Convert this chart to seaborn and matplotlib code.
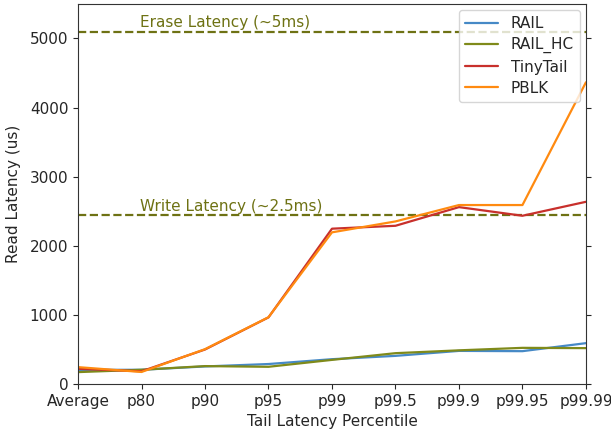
import matplotlib
matplotlib.use("Agg")
import matplotlib.pyplot as plt
import seaborn as sns
import pandas as pd

percentiles = ["Average", "p80", "p90", "p95", "p99", "p99.5", "p99.9", "p99.95", "p99.99"]
rail = [205, 207, 255, 290, 360, 408, 480, 476, 592]
rail_hc = [173, 207, 260, 250, 350, 447, 488, 524, 520]
tinytail = [221, 185, 500, 965, 2248, 2290, 2560, 2435, 2637]
pblk = [245, 175, 505, 967, 2195, 2353, 2590, 2590, 4366]
series_names = ["RAIL", "RAIL_HC", "TinyTail", "PBLK"]
series_colors = ["#4689c6", "#7f8a1a", "#c8302c", "#ff8a10"]
write_latency = 2440
erase_latency = 5100

rows = []
for name, vals in zip(series_names, [rail, rail_hc, tinytail, pblk]):
    for p, v in zip(percentiles, vals):
        rows.append({"Percentile": p, "Latency": v, "System": name})
df = pd.DataFrame(rows)

sns.set_style("ticks")
plt.rcParams["font.family"] = ["DejaVu Sans"]

fig = plt.figure(figsize=(6.11, 4.33), dpi=100)
ax = fig.add_axes([0.1277, 0.113, 0.8313, 0.878])

sns.lineplot(data=df, x="Percentile", y="Latency", hue="System",
             palette=dict(zip(series_names, series_colors)), sort=False,
             linewidth=1.6, ax=ax)

ax.axhline(write_latency, color="#6e7214", linestyle="--", linewidth=1.6, zorder=1)
ax.axhline(erase_latency, color="#6e7214", linestyle="--", linewidth=1.6, zorder=1)
ax.text(0.97, write_latency + 60, "Write Latency (~2.5ms)", color="#6e7214", fontsize=11)
ax.text(0.97, erase_latency + 60, "Erase Latency (~5ms)", color="#6e7214", fontsize=11)

ax.set_xlim(0, len(percentiles) - 1)
ax.set_ylim(0, 5500)
ax.set_yticks([0, 1000, 2000, 3000, 4000, 5000])
ax.set_xlabel("Tail Latency Percentile", fontsize=11)
ax.set_ylabel("Read Latency (us)", fontsize=11, labelpad=6)
ax.tick_params(axis="both", labelsize=11, right=True, direction="out")
for s in ax.spines.values():
    s.set_visible(True)
    s.set_color("#333333")

ax.legend(loc="upper right", fontsize=11, frameon=True, handlelength=2.2,
          borderaxespad=0.4, labelspacing=0.4)

fig.savefig("out.png", dpi=100)
